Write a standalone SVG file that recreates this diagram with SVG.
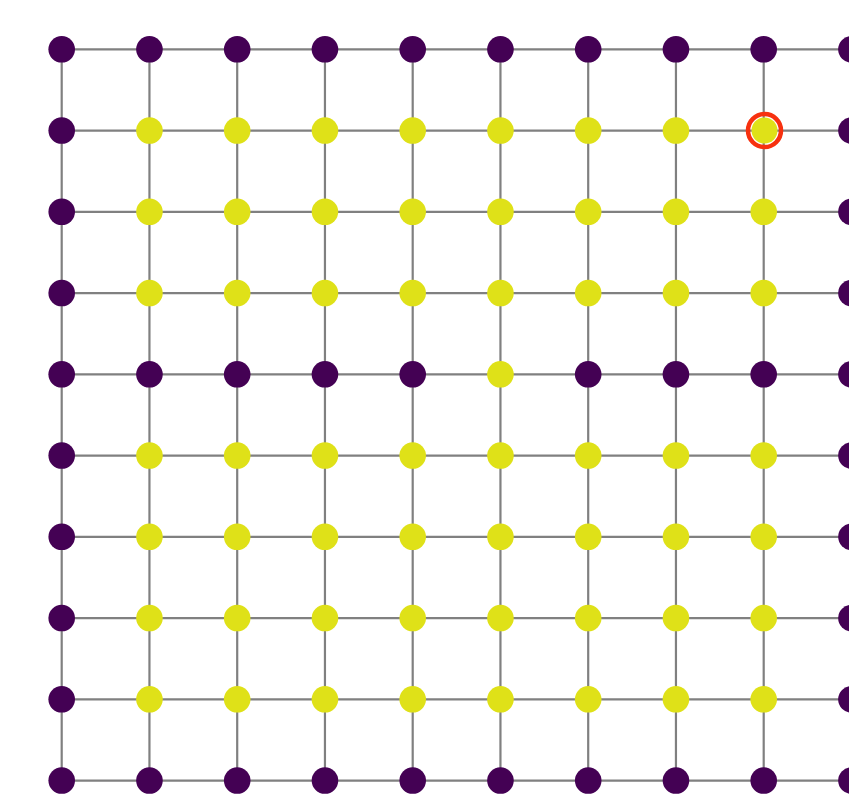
<svg xmlns="http://www.w3.org/2000/svg" width="849" height="800" viewBox="0 0 849 800">
<style>
.e{stroke:#808080;stroke-width:2.2;fill:none}
.p{fill:#440154}
.y{fill:#dfe118}
.hl{fill:none;stroke:#f7310f;stroke-width:4.5}
</style>
<rect width="849" height="800" fill="#ffffff"/>
<g id="edges">
<path class="e" d="M61.7 49.3H860M61.7 130.55H860M61.7 211.8H860M61.7 293.05H860M61.7 374.3H860M61.7 455.55H860M61.7 536.8H860M61.7 618.05H860M61.7 699.3H860M61.7 780.55H860"/>
<path class="e" d="M61.7 49.3V780.55M149.45 49.3V780.55M237.2 49.3V780.55M324.95 49.3V780.55M412.7 49.3V780.55M500.45 49.3V780.55M588.2 49.3V780.55M675.95 49.3V780.55M763.7 49.3V780.55M851.45 49.3V780.55"/>
</g>
<g id="nodes">
<g id="n0-0"><circle class="p" cx="61.7" cy="49.3" r="13.3"/></g>
<g id="n0-1"><circle class="p" cx="149.45" cy="49.3" r="13.3"/></g>
<g id="n0-2"><circle class="p" cx="237.2" cy="49.3" r="13.3"/></g>
<g id="n0-3"><circle class="p" cx="324.95" cy="49.3" r="13.3"/></g>
<g id="n0-4"><circle class="p" cx="412.7" cy="49.3" r="13.3"/></g>
<g id="n0-5"><circle class="p" cx="500.45" cy="49.3" r="13.3"/></g>
<g id="n0-6"><circle class="p" cx="588.2" cy="49.3" r="13.3"/></g>
<g id="n0-7"><circle class="p" cx="675.95" cy="49.3" r="13.3"/></g>
<g id="n0-8"><circle class="p" cx="763.7" cy="49.3" r="13.3"/></g>
<g id="n0-9"><circle class="p" cx="851.45" cy="49.3" r="13.3"/></g>

<g id="n1-0"><circle class="p" cx="61.7" cy="130.55" r="13.3"/></g>
<g id="n1-1"><circle class="y" cx="149.45" cy="130.55" r="13.3"/></g>
<g id="n1-2"><circle class="y" cx="237.2" cy="130.55" r="13.3"/></g>
<g id="n1-3"><circle class="y" cx="324.95" cy="130.55" r="13.3"/></g>
<g id="n1-4"><circle class="y" cx="412.7" cy="130.55" r="13.3"/></g>
<g id="n1-5"><circle class="y" cx="500.45" cy="130.55" r="13.3"/></g>
<g id="n1-6"><circle class="y" cx="588.2" cy="130.55" r="13.3"/></g>
<g id="n1-7"><circle class="y" cx="675.95" cy="130.55" r="13.3"/></g>
<g id="n1-8"><circle class="y" cx="764.5" cy="130.55" r="13"/><circle class="hl" cx="764.5" cy="130.55" r="16.5"/></g>
<g id="n1-9"><circle class="p" cx="851.45" cy="130.55" r="13.3"/></g>

<g id="n2-0"><circle class="p" cx="61.7" cy="211.8" r="13.3"/></g>
<g id="n2-1"><circle class="y" cx="149.45" cy="211.8" r="13.3"/></g>
<g id="n2-2"><circle class="y" cx="237.2" cy="211.8" r="13.3"/></g>
<g id="n2-3"><circle class="y" cx="324.95" cy="211.8" r="13.3"/></g>
<g id="n2-4"><circle class="y" cx="412.7" cy="211.8" r="13.3"/></g>
<g id="n2-5"><circle class="y" cx="500.45" cy="211.8" r="13.3"/></g>
<g id="n2-6"><circle class="y" cx="588.2" cy="211.8" r="13.3"/></g>
<g id="n2-7"><circle class="y" cx="675.95" cy="211.8" r="13.3"/></g>
<g id="n2-8"><circle class="y" cx="763.7" cy="211.8" r="13.3"/></g>
<g id="n2-9"><circle class="p" cx="851.45" cy="211.8" r="13.3"/></g>

<g id="n3-0"><circle class="p" cx="61.7" cy="293.05" r="13.3"/></g>
<g id="n3-1"><circle class="y" cx="149.45" cy="293.05" r="13.3"/></g>
<g id="n3-2"><circle class="y" cx="237.2" cy="293.05" r="13.3"/></g>
<g id="n3-3"><circle class="y" cx="324.95" cy="293.05" r="13.3"/></g>
<g id="n3-4"><circle class="y" cx="412.7" cy="293.05" r="13.3"/></g>
<g id="n3-5"><circle class="y" cx="500.45" cy="293.05" r="13.3"/></g>
<g id="n3-6"><circle class="y" cx="588.2" cy="293.05" r="13.3"/></g>
<g id="n3-7"><circle class="y" cx="675.95" cy="293.05" r="13.3"/></g>
<g id="n3-8"><circle class="y" cx="763.7" cy="293.05" r="13.3"/></g>
<g id="n3-9"><circle class="p" cx="851.45" cy="293.05" r="13.3"/></g>

<g id="n4-0"><circle class="p" cx="61.7" cy="374.3" r="13.3"/></g>
<g id="n4-1"><circle class="p" cx="149.45" cy="374.3" r="13.3"/></g>
<g id="n4-2"><circle class="p" cx="237.2" cy="374.3" r="13.3"/></g>
<g id="n4-3"><circle class="p" cx="324.95" cy="374.3" r="13.3"/></g>
<g id="n4-4"><circle class="p" cx="412.7" cy="374.3" r="13.3"/></g>
<g id="n4-5"><circle class="y" cx="500.45" cy="374.3" r="13.3"/></g>
<g id="n4-6"><circle class="p" cx="588.2" cy="374.3" r="13.3"/></g>
<g id="n4-7"><circle class="p" cx="675.95" cy="374.3" r="13.3"/></g>
<g id="n4-8"><circle class="p" cx="763.7" cy="374.3" r="13.3"/></g>
<g id="n4-9"><circle class="p" cx="851.45" cy="374.3" r="13.3"/></g>

<g id="n5-0"><circle class="p" cx="61.7" cy="455.55" r="13.3"/></g>
<g id="n5-1"><circle class="y" cx="149.45" cy="455.55" r="13.3"/></g>
<g id="n5-2"><circle class="y" cx="237.2" cy="455.55" r="13.3"/></g>
<g id="n5-3"><circle class="y" cx="324.95" cy="455.55" r="13.3"/></g>
<g id="n5-4"><circle class="y" cx="412.7" cy="455.55" r="13.3"/></g>
<g id="n5-5"><circle class="y" cx="500.45" cy="455.55" r="13.3"/></g>
<g id="n5-6"><circle class="y" cx="588.2" cy="455.55" r="13.3"/></g>
<g id="n5-7"><circle class="y" cx="675.95" cy="455.55" r="13.3"/></g>
<g id="n5-8"><circle class="y" cx="763.7" cy="455.55" r="13.3"/></g>
<g id="n5-9"><circle class="p" cx="851.45" cy="455.55" r="13.3"/></g>

<g id="n6-0"><circle class="p" cx="61.7" cy="536.8" r="13.3"/></g>
<g id="n6-1"><circle class="y" cx="149.45" cy="536.8" r="13.3"/></g>
<g id="n6-2"><circle class="y" cx="237.2" cy="536.8" r="13.3"/></g>
<g id="n6-3"><circle class="y" cx="324.95" cy="536.8" r="13.3"/></g>
<g id="n6-4"><circle class="y" cx="412.7" cy="536.8" r="13.3"/></g>
<g id="n6-5"><circle class="y" cx="500.45" cy="536.8" r="13.3"/></g>
<g id="n6-6"><circle class="y" cx="588.2" cy="536.8" r="13.3"/></g>
<g id="n6-7"><circle class="y" cx="675.95" cy="536.8" r="13.3"/></g>
<g id="n6-8"><circle class="y" cx="763.7" cy="536.8" r="13.3"/></g>
<g id="n6-9"><circle class="p" cx="851.45" cy="536.8" r="13.3"/></g>

<g id="n7-0"><circle class="p" cx="61.7" cy="618.05" r="13.3"/></g>
<g id="n7-1"><circle class="y" cx="149.45" cy="618.05" r="13.3"/></g>
<g id="n7-2"><circle class="y" cx="237.2" cy="618.05" r="13.3"/></g>
<g id="n7-3"><circle class="y" cx="324.95" cy="618.05" r="13.3"/></g>
<g id="n7-4"><circle class="y" cx="412.7" cy="618.05" r="13.3"/></g>
<g id="n7-5"><circle class="y" cx="500.45" cy="618.05" r="13.3"/></g>
<g id="n7-6"><circle class="y" cx="588.2" cy="618.05" r="13.3"/></g>
<g id="n7-7"><circle class="y" cx="675.95" cy="618.05" r="13.3"/></g>
<g id="n7-8"><circle class="y" cx="763.7" cy="618.05" r="13.3"/></g>
<g id="n7-9"><circle class="p" cx="851.45" cy="618.05" r="13.3"/></g>

<g id="n8-0"><circle class="p" cx="61.7" cy="699.3" r="13.3"/></g>
<g id="n8-1"><circle class="y" cx="149.45" cy="699.3" r="13.3"/></g>
<g id="n8-2"><circle class="y" cx="237.2" cy="699.3" r="13.3"/></g>
<g id="n8-3"><circle class="y" cx="324.95" cy="699.3" r="13.3"/></g>
<g id="n8-4"><circle class="y" cx="412.7" cy="699.3" r="13.3"/></g>
<g id="n8-5"><circle class="y" cx="500.45" cy="699.3" r="13.3"/></g>
<g id="n8-6"><circle class="y" cx="588.2" cy="699.3" r="13.3"/></g>
<g id="n8-7"><circle class="y" cx="675.95" cy="699.3" r="13.3"/></g>
<g id="n8-8"><circle class="y" cx="763.7" cy="699.3" r="13.3"/></g>
<g id="n8-9"><circle class="p" cx="851.45" cy="699.3" r="13.3"/></g>

<g id="n9-0"><circle class="p" cx="61.7" cy="780.55" r="13.3"/></g>
<g id="n9-1"><circle class="p" cx="149.45" cy="780.55" r="13.3"/></g>
<g id="n9-2"><circle class="p" cx="237.2" cy="780.55" r="13.3"/></g>
<g id="n9-3"><circle class="p" cx="324.95" cy="780.55" r="13.3"/></g>
<g id="n9-4"><circle class="p" cx="412.7" cy="780.55" r="13.3"/></g>
<g id="n9-5"><circle class="p" cx="500.45" cy="780.55" r="13.3"/></g>
<g id="n9-6"><circle class="p" cx="588.2" cy="780.55" r="13.3"/></g>
<g id="n9-7"><circle class="p" cx="675.95" cy="780.55" r="13.3"/></g>
<g id="n9-8"><circle class="p" cx="763.7" cy="780.55" r="13.3"/></g>
<g id="n9-9"><circle class="p" cx="851.45" cy="780.55" r="13.3"/></g>
</g>
</svg>
